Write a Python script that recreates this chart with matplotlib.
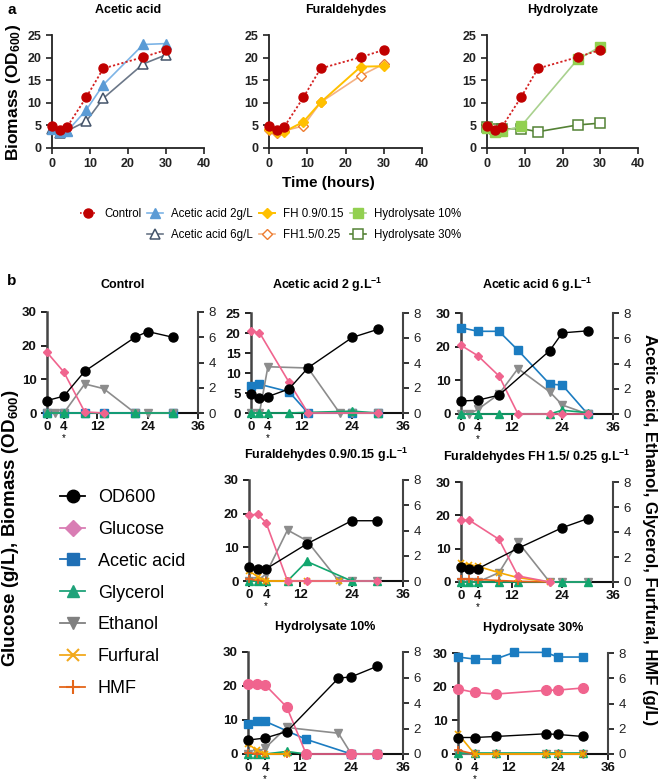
import numpy as np
import matplotlib
matplotlib.use('Agg')
import matplotlib.pyplot as plt
from matplotlib.lines import Line2D

plt.rcParams['font.family'] = ['Liberation Sans', 'DejaVu Sans']
plt.rcParams['mathtext.fontset'] = 'custom'
plt.rcParams['mathtext.rm'] = 'Liberation Sans'
plt.rcParams['mathtext.bf'] = 'Liberation Sans:bold'
plt.rcParams['mathtext.it'] = 'Liberation Sans:italic'

nan = np.nan
W, H = 660, 783

# ---------------- Panel a data (Biomass OD600 vs time) ----------------
T_A = [0, 2, 4, 9, 13.5, 24, 30]
od_control = [4.8, 4.0, 4.7, 11.2, 17.6, 20.1, 21.7]
od_aa2 = [4.3, 3.5, 3.7, 8.4, 14.0, 22.9, 23.1]
od_aa6 = [4.3, 3.4, 3.8, 5.9, 11.0, 18.6, 20.6]
od_fh09 = [4.2, 3.6, 3.6, 5.8, 10.1, 18.0, 18.1]
od_fh15 = [4.0, 3.4, 3.8, 4.9, 10.1, 16.0, 18.6]
od_h10 = [4.4, 3.6, 3.7, 4.8, nan, 19.6, 22.4]
od_h30 = [4.6, 4.2, 4.2, 4.3, 3.6, 5.1, 5.5]
titles_a = ['Acetic acid', 'Furaldehydes', 'Hydrolyzate']

# ---------------- Panel b data ----------------
T_B = [0, 2, 4, 9, 13.5, 21, 24, 30]
titles_b = ['Control', 'Acetic acid 2 g.L$^{\\mathbf{-1}}$', 'Acetic acid 6 g.L$^{\\mathbf{-1}}$',
            'Furaldehydes 0.9/0.15 g.L$^{\\mathbf{-1}}$', 'Furaldehydes FH 1.5/ 0.25 g.L$^{\\mathbf{-1}}$',
            'Hydrolysate 10%', 'Hydrolysate 30%']
left_max_b = [30, 25, 30, 30, 30, 30, 30]

ctrl_od = [3.7, nan, 5.0, 12.4, nan, 22.5, 24.2, 22.5]
ctrl_glc = [18.0, nan, 12.2, 0.3, 0, nan, nan, nan]
ctrl_ac = [0, nan, 0, 0, 0, 0, nan, 0]
ctrl_gly = [0, nan, 0, 0, 0, 0, nan, 0]
ctrl_eth = [0, 0, 0, 2.3, 1.93, 0, 0, 0]
ctrl_fur = [nan] * 8
ctrl_hmf = [nan] * 8

aa2_od = [4.7, 3.7, 4.1, 6.0, 11.3, nan, 18.9, 20.9]
aa2_glc = [20.4, 20.1, nan, 7.7, 0, nan, nan, 0]
aa2_ac = [2.2, 2.3, nan, 1.7, 0, nan, 0, 0]
aa2_gly = [0, 0, 0, 0, nan, nan, 0.15, 0]
aa2_eth = [0, 0, 3.7, nan, 3.6, 0, 0, 0]
aa2_fur = [nan] * 8
aa2_hmf = [nan] * 8

aa6_od = [3.85, nan, 4.1, 5.6, nan, 18.8, 24.1, 24.7]
aa6_glc = [20.4, nan, 17.3, 11.3, 0, 0, 0, 0]
aa6_ac = [6.84, nan, 6.55, 6.55, 5.05, 2.37, 2.29, 0]
aa6_gly = [0, nan, 0, 0, nan, 0, 0.3, 0.1]
aa6_eth = [0, 0, 0.37, 1.58, 3.6, 1.76, 0.71, 0]
aa6_fur = [nan] * 8
aa6_hmf = [nan] * 8

fh09_od = [4.3, 3.6, 3.6, nan, 11.0, nan, 17.9, 17.9]
fh09_glc = [19.6, 19.8, 17.3, 0, 0, nan, nan, 0]
fh09_ac = [nan] * 8
fh09_gly = [0, 0, 0, 0, 1.55, nan, 0, 0]
fh09_eth = [0, 0, 0.58, 4.04, 3.2, 0, 0, 0]
fh09_fur = [0.8, 0.35, 0, 0, 0, 0, nan, nan]
fh09_hmf = [0.15, 0.05, 0, 0, nan, nan, nan, nan]

fh15_od = [4.6, 3.8, 4.0, nan, 10.1, nan, 16.3, 19.0]
fh15_glc = [18.5, 18.5, nan, 12.8, 1.8, 0, nan, nan]
fh15_ac = [nan] * 8
fh15_gly = [0, 0, 0, 0, 0, nan, 0, 0]
fh15_eth = [0, 0, 0, 0.75, 3.2, 0, 0, 0]
fh15_fur = [1.5, 1.4, 1.25, 0.75, 0.35, 0, nan, nan]
fh15_hmf = [0.25, 0.22, 0.2, 0.12, 0.05, 0, nan, nan]

h10_od = [4.1, nan, 4.7, 6.6, nan, 22.3, 22.7, 25.8]
h10_glc = [20.5, 20.5, 20.3, 13.8, 0, nan, 0, 0]
h10_ac = [2.32, 2.56, 2.56, nan, 1.15, nan, 0, 0]
h10_gly = [0, 0, 0, 0.2, 0, nan, nan, nan]
h10_eth = [0, 0.08, 0.48, 2.08, nan, 1.63, 0, 0]
h10_fur = [0.8, 0.3, 0, 0, nan, nan, nan, nan]
h10_hmf = [0.1, 0, 0, 0, nan, nan, nan, nan]

h30_od = [4.9, nan, 4.9, 5.2, nan, 6.0, 5.8, 5.2]
h30_glc = [19.3, nan, 18.3, 17.8, nan, 18.9, 19.0, 19.6]
h30_ac = [7.68, nan, 7.52, 7.52, 8.05, 8.05, 7.68, 7.68]
h30_gly = [0.1, nan, 0.1, 0.1, nan, 0.1, 0.1, 0.1]
h30_eth = [0, nan, 0, 0, nan, 0, 0, 0]
h30_fur = [1.6, nan, 0, 0, nan, 0, 0, 0]
h30_hmf = [0.3, nan, 0, 0, nan, 0, 0, 0]

fig = plt.figure(figsize=(6.6, 7.83), dpi=100)


def box(x0, x1, y0, y1):
    return [x0 / W, 1 - y1 / H, (x1 - x0) / W, (y1 - y0) / H]


def pl(ax, t, y, **kw):
    t = np.asarray(t, float)
    y = np.asarray(y, float)
    m = ~np.isnan(y)
    if m.sum() == 0:
        return
    ax.plot(t[m], y[m], clip_on=False, **kw)


# ---------------- Panel a ----------------
a_boxes = [box(52, 204, 35, 148), box(269, 422, 35, 148), box(487, 638, 35, 148)]
ctrl_style = dict(color='#D42020', ls=(0, (1.2, 1.2)), lw=1.3, marker='o', ms=6.5,
                  mfc='#C00000', mec='#C00000', zorder=5)
a_series = [
    [(od_aa2, dict(color='#7DB4E6', lw=1.2, marker='^', ms=6.5, mfc='#5B9BD5', mec='#5B9BD5', zorder=4)),
     (od_aa6, dict(color='#6B7788', lw=1.2, marker='^', ms=6.5, mfc='white', mec='#44546A', mew=1.1, zorder=3))],
    [(od_fh09, dict(color='#FFC000', lw=1.4, marker='D', ms=5.5, mfc='#FFC000', mec='#FFC000', zorder=4)),
     (od_fh15, dict(color='#F4B183', lw=1.2, marker='D', ms=5.5, mfc='white', mec='#ED7D31', mew=1.0, zorder=3))],
    [(od_h10, dict(color='#A9D18E', lw=1.2, marker='s', ms=6.5, mfc='#92D050', mec='#92D050', zorder=4)),
     (od_h30, dict(color='#548235', lw=1.2, marker='s', ms=6.5, mfc='white', mec='#548235', mew=1.1, zorder=3))],
]
for i, b in enumerate(a_boxes):
    ax = fig.add_axes(b)
    for ys, st in a_series[i]:
        pl(ax, T_A, ys, **st)
    pl(ax, T_A, od_control, **ctrl_style)
    ax.set_xlim(0, 40)
    ax.set_ylim(0, 25)
    ax.set_xticks([0, 10, 20, 30, 40])
    ax.set_yticks([0, 5, 10, 15, 20, 25])
    for s in ['top', 'right']:
        ax.spines[s].set_visible(False)
    for s in ['left', 'bottom']:
        ax.spines[s].set_linewidth(1.3)
        ax.spines[s].set_color('#222222')
    ax.tick_params(length=4, width=1.2, labelsize=9, colors='#222222')
    for lab in ax.get_xticklabels() + ax.get_yticklabels():
        lab.set_fontweight('bold')
    ax.set_title(titles_a[i], fontsize=9, fontweight='bold', pad=16)

fig.text(12 / W, 1 - 10 / H, 'a', fontsize=11, fontweight='bold', ha='center', va='center')
fig.text(14 / W, 1 - 92 / H, 'Biomass (OD$_{\\mathbf{600}}$)', fontsize=12.5, fontweight='bold',
         rotation=90, ha='center', va='center')
fig.text(328 / W, 1 - 183 / H, 'Time (hours)', fontsize=11, fontweight='bold', ha='center', va='center')

leg_a_handles = [
    Line2D([], [], color='#D42020', ls=(0, (1, 1)), lw=1.2, marker='o', ms=6.5, mfc='#C00000', mec='#C00000'),
    Line2D([], [], ls='none', marker=None),
    Line2D([], [], color='#7DB4E6', lw=1.2, marker='^', ms=6.5, mfc='#5B9BD5', mec='#5B9BD5'),
    Line2D([], [], color='#6B7788', lw=1.2, marker='^', ms=6.5, mfc='white', mec='#44546A', mew=1.1),
    Line2D([], [], color='#FFC000', lw=1.4, marker='D', ms=5.5, mfc='#FFC000', mec='#FFC000'),
    Line2D([], [], color='#F4B183', lw=1.2, marker='D', ms=5.5, mfc='white', mec='#ED7D31'),
    Line2D([], [], color='#A9D18E', lw=1.2, marker='s', ms=6.5, mfc='#92D050', mec='#92D050'),
    Line2D([], [], color='#548235', lw=1.2, marker='s', ms=6.5, mfc='white', mec='#548235', mew=1.1),
]
leg_a_labels = ['Control', '', 'Acetic acid 2g/L', 'Acetic acid 6g/L', 'FH 0.9/0.15', 'FH1.5/0.25',
                'Hydrolysate 10%', 'Hydrolysate 30%']
fig.legend(leg_a_handles, leg_a_labels, ncol=4, loc='center left', bbox_to_anchor=(80 / W, 1 - 224.5 / H),
           frameon=False, fontsize=8.3, handlelength=1.4, handletextpad=0.7, columnspacing=0.5,
           labelspacing=0.75, borderpad=0, borderaxespad=0)

# ---------------- Panel b ----------------
C_OD, C_GLC, C_AC, C_GLY, C_ETH, C_FUR, C_HMF = '#000000', '#F0648E', '#1B7CC1', '#12A66E', '#8C8C8C', '#F5A800', '#E8601C'
b_boxes = [box(47, 198, 312, 413), box(251, 403, 313, 413), box(461, 613, 313, 414),
           box(249, 403, 480, 581), box(461, 613, 482, 582),
           box(248, 403, 652, 754), box(458, 608, 653, 754)]
b_pads = [17, 17, 17, 15, 15, 16, 16]
b_data = [
    (ctrl_od, ctrl_glc, ctrl_ac, ctrl_gly, ctrl_eth, ctrl_fur, ctrl_hmf),
    (aa2_od, aa2_glc, aa2_ac, aa2_gly, aa2_eth, aa2_fur, aa2_hmf),
    (aa6_od, aa6_glc, aa6_ac, aa6_gly, aa6_eth, aa6_fur, aa6_hmf),
    (fh09_od, fh09_glc, fh09_ac, fh09_gly, fh09_eth, fh09_fur, fh09_hmf),
    (fh15_od, fh15_glc, fh15_ac, fh15_gly, fh15_eth, fh15_fur, fh15_hmf),
    (h10_od, h10_glc, h10_ac, h10_gly, h10_eth, h10_fur, h10_hmf),
    (h30_od, h30_glc, h30_ac, h30_gly, h30_eth, h30_fur, h30_hmf),
]
for i, b in enumerate(b_boxes):
    od, glc, ac, gly, eth, fur, hmf = b_data[i]
    ax = fig.add_axes(b)
    tw = ax.twinx()
    glc_marker = 'o' if i >= 5 else 'D'
    glc_ms = 7 if i >= 5 else 4.5
    # right-axis series
    pl(tw, T_B, ac, color=C_AC, lw=1.2, marker='s', ms=6, zorder=3)
    pl(tw, T_B, eth, color=C_ETH, lw=1.2, marker='v', ms=6, zorder=3)
    pl(tw, T_B, gly, color=C_GLY, lw=1.2, marker='^', ms=5.5, zorder=3)
    pl(tw, T_B, hmf, color=C_HMF, lw=1.2, marker='+', ms=6, mew=1.2, zorder=3)
    pl(tw, T_B, fur, color=C_FUR, lw=1.2, marker='x', ms=5, mew=1.2, zorder=3)
    # left-axis series (glucose, OD) drawn on the twin, rescaled to left-axis units
    lscale = 8.0 / left_max_b[i]
    pl(tw, T_B, np.asarray(glc, float) * lscale, color=C_GLC, lw=1.2, marker=glc_marker,
       ms=glc_ms, zorder=4)
    pl(tw, T_B, np.asarray(od, float) * lscale, color=C_OD, lw=1.0, marker='o', ms=6.5, zorder=5)
    ax.set_xlim(0, 36)
    ax.set_ylim(0, left_max_b[i])
    tw.set_ylim(0, 8)
    ax.set_xticks([0, 4, 12, 24, 36])
    ax.set_yticks(list(range(0, left_max_b[i] + 1, 5 if left_max_b[i] == 25 else 10)))
    tw.set_yticks([0, 2, 4, 6, 8])
    for s in ['top', 'right']:
        ax.spines[s].set_visible(False)
    for s in ['top', 'left', 'bottom']:
        tw.spines[s].set_visible(False)
    ax.spines['left'].set_linewidth(1.8)
    ax.spines['left'].set_color('#444444')
    ax.spines['bottom'].set_linewidth(1.5)
    ax.spines['bottom'].set_color('#111111')
    tw.spines['right'].set_linewidth(1.5)
    tw.spines['right'].set_color('#444444')
    ax.tick_params(length=4, width=1.3, labelsize=9.5, colors='#111111')
    ax.tick_params(axis='x', pad=1.5)
    tw.tick_params(length=4, width=1.3, labelsize=9.5, colors='#222222')
    for lab in ax.get_xticklabels() + ax.get_yticklabels():
        lab.set_fontweight('bold')
    ax.set_title(titles_b[i], fontsize=9, fontweight='bold', pad=b_pads[i])
    ax.annotate('*', xy=(4, 0), xycoords=('data', 'axes fraction'), xytext=(0, -25),
                textcoords='offset pixels', ha='center', va='center', fontsize=7)

fig.text(12 / W, 1 - 281 / H, 'b', fontsize=11, fontweight='bold', ha='center', va='center')
fig.text(11 / W, 1 - 528 / H, 'Glucose (g/L), Biomass (OD$_{\\mathbf{600}}$)', fontsize=13.5,
         fontweight='bold', rotation=90, ha='center', va='center')
fig.text(650 / W, 1 - 530 / H, 'Acetic acid, Ethanol, Glycerol, Furfural, HMF (g/L)', fontsize=12,
         fontweight='bold', rotation=-90, ha='center', va='center')

leg_b_handles = [
    Line2D([], [], color='#000000', lw=1.3, marker='o', ms=9),
    Line2D([], [], color='#D97DB4', lw=1.3, marker='D', ms=8),
    Line2D([], [], color='#1F6FB5', lw=1.3, marker='s', ms=9),
    Line2D([], [], color='#1FA27A', lw=1.3, marker='^', ms=9),
    Line2D([], [], color='#808080', lw=1.3, marker='v', ms=9),
    Line2D([], [], color='#F2A91C', lw=1.3, marker='x', ms=9, mew=1.5),
    Line2D([], [], color='#E4661A', lw=1.3, marker='+', ms=10, mew=1.5),
]
leg_b_labels = ['OD600', 'Glucose', 'Acetic acid', 'Glycerol', 'Ethanol', 'Furfural', 'HMF']
fig.legend(leg_b_handles, leg_b_labels, loc='center left', bbox_to_anchor=(60 / W, 1 - 593 / H),
           frameon=False, fontsize=13, handlelength=1.4, handletextpad=0.7, labelspacing=0.82,
           borderpad=0, borderaxespad=0)

fig.savefig('out.png', dpi=100)
